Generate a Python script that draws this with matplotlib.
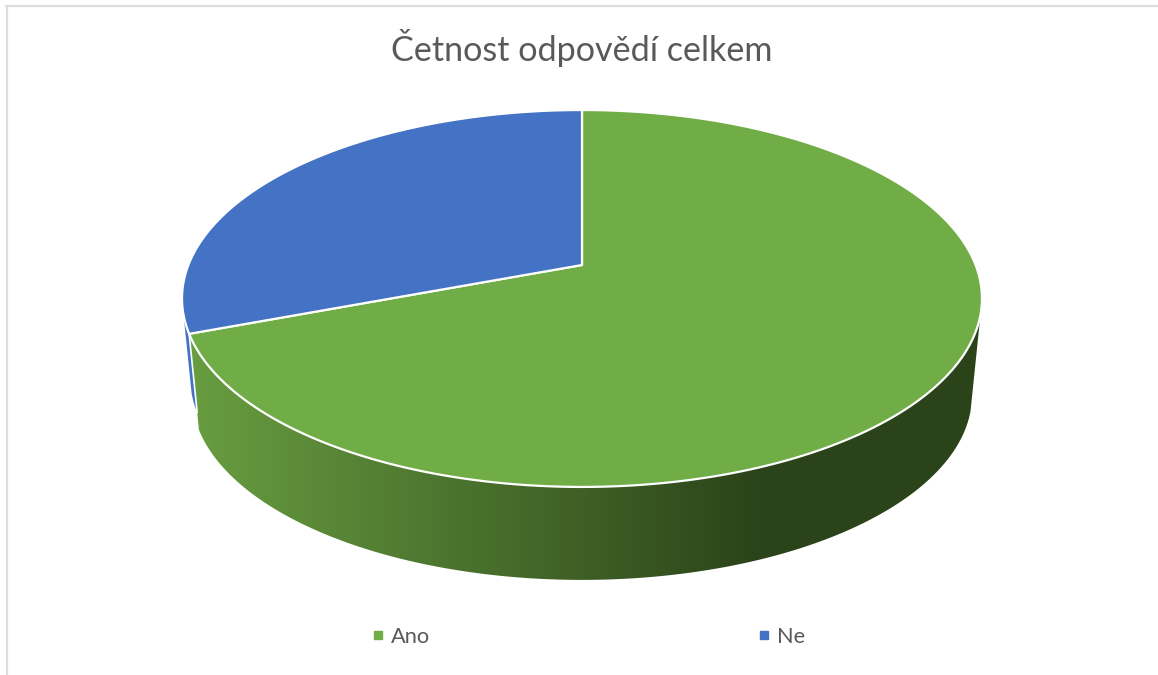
import numpy as np
import matplotlib.pyplot as plt
from matplotlib.lines import Line2D
from matplotlib.patches import Polygon

title = 'Četnost odpovědí celkem'
labels = ['Ano', 'Ne']
values = [69.25, 30.75]
colors = ['#70AD47', '#4472C4']

plt.rcParams['font.family'] = ['Lato', 'DejaVu Sans']

# pie geometry in image pixels, with a bit of perspective
cx = 582
top_y = 265
bot_y = 362.4
rx = 393.6
ry = 182.5
k = 0.1777
bot_scale_x = 0.975
bot_scale_y = 0.98


def project(phi, bottom=False):
    # phi = clockwise angle from 12 o'clock in degrees
    u = np.sin(np.radians(phi))
    v = np.cos(np.radians(phi))
    d = 1 + k * v
    if bottom:
        return cx + bot_scale_x * rx * u / d, bot_y - bot_scale_y * ry * v / d
    return cx + rx * u / d, top_y - ry * v / d


fig = plt.figure(figsize=(11.58, 6.75), dpi=100)
ax = fig.add_axes([0, 0, 1, 1])
ax.set_xlim(0, 1158)
ax.set_ylim(675, 0)
ax.axis('off')

ax.plot([7, 7], [6, 675], c='#DDDDDD', lw=1.6)
ax.plot([6, 1158], [6, 6], c='#DDDDDD', lw=1.6)

angles = np.cumsum([0] + values) / sum(values) * 360

# wall of the blue slice, only a sliver shows next to the green one
phi = np.linspace(angles[1], 255, 10)
xt, yt = project(phi)
xb, yb = project(phi, bottom=True)
xb = xt + 0.82 * (xb - xt)
yb = yt + 0.82 * (yb - yt)
ax.fill(np.r_[xt, xb[::-1]], np.r_[yt, yb[::-1]], color=colors[1], lw=0)

# wall of the green slice, shaded from left to right
phi = np.linspace(105, angles[1], 300)
xt, yt = project(phi)
xb, yb = project(phi, bottom=True)
wall = Polygon(np.c_[np.r_[xt, xb[::-1]], np.r_[yt, yb[::-1]]], closed=True,
               transform=ax.transData, fc='none', ec='none')
ax.add_patch(wall)
t = np.clip((np.linspace(150, 1050, 900) - 197) / (760 - 197), 0, 1)[None, :, None]
c0 = np.array([0x67, 0x9C, 0x40])
c1 = np.array([0x2B, 0x43, 0x19])
img = ax.imshow((c0 + t * (c1 - c0)) / 255, extent=[150, 1050, 600, 300], aspect='auto', zorder=1.5)
img.set_clip_path(wall)
ax.set_xlim(0, 1158)
ax.set_ylim(675, 0)

# white line between the two walls
xt, yt = project(angles[1])
xb, yb = project(angles[1], bottom=True)
ax.plot([xt, xt + 0.82 * (xb - xt)], [yt, yt + 0.82 * (yb - yt)], c='white', lw=1.2, zorder=2)

# top faces
for i in range(len(values)):
    phi = np.linspace(angles[i], angles[i + 1], 200)
    x, y = project(phi)
    ax.fill(np.r_[cx, x], np.r_[top_y, y], facecolor=colors[i], edgecolor='white',
            lw=1.6, joinstyle='round', zorder=3)

ax.text(582, 48, title, ha='center', va='center', fontsize=24.6, color='#595959')

handles = [Line2D([], [], ls='', marker='s', ms=6, mfc=c, mec=c, label=l)
           for c, l in zip(colors, labels)]
ax.legend(handles=handles, ncol=2, frameon=False, loc='center',
          bbox_to_anchor=(586 / 1158, 1 - 637 / 675), fontsize=15.7,
          labelcolor='#595959', columnspacing=14.8, handletextpad=0.1, handlelength=1.0)

fig.savefig('out.png', dpi=100)
